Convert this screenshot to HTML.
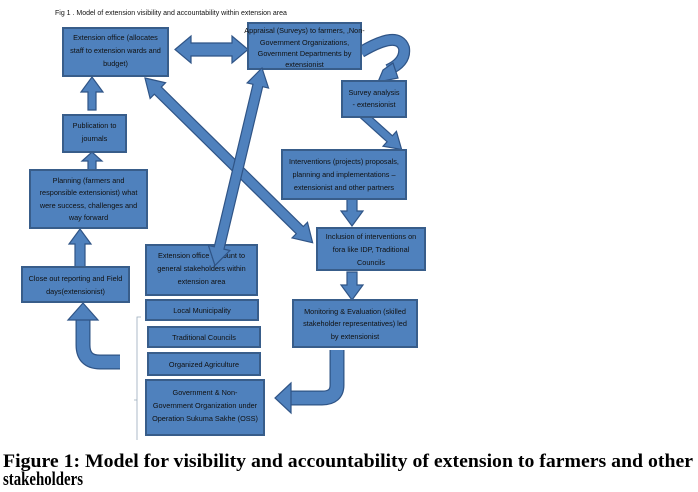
<!DOCTYPE html>
<html><head><meta charset="utf-8"><style>
html,body{margin:0;padding:0;background:#fff;width:698px;height:492px;overflow:hidden}
svg{display:block}
.b{fill:#4f81bd;stroke:#385d8a;stroke-width:2}
.a{fill:#4f81bd;stroke:#2f5486;stroke-width:1.2}
text.t{font-family:"Liberation Sans",sans-serif;font-size:7.3px;fill:#111;text-anchor:middle}
</style></head><body>
<svg width="698" height="492" viewBox="0 0 698 492" xmlns="http://www.w3.org/2000/svg">
<text x="55" y="15" font-family="Liberation Sans, sans-serif" font-size="7px" fill="#111">Fig 1 . Model of extension visibility and accountability within extension area</text>

<!-- horizontal double -->
<polygon class="a" points="175,49.5 191,36 191,43 232,43 232,36 248,49.5 232,63 232,56 191,56 191,63"/>

<!-- up arrows -->
<polygon class="a" points="88,110 88,92 81,92 92,77 103,92 96,92 96,110"/>
<polygon class="a" points="88,170 88,161 82,161 92,152 102,161 96,161 96,170"/>
<polygon class="a" points="75,267 75,244 69,244 80,229 91,244 85,244 85,267"/>
<!-- down arrows -->
<polygon class="a" points="347,199 357,199 357,211 363,211 352,226 341,211 347,211"/>
<polygon class="a" points="347,272 357,272 357,285 363,285 352,300 341,285 347,285"/>
<!-- survey -> interventions -->
<g transform="translate(360,112) rotate(42)">
<polygon class="a" points="0,-4 40,-4 40,-10 56,0 40,10 40,4 0,4"/></g>

<!-- curved arrows -->
<path d="M361,52 Q398,30 404,48 Q406,62 388,70" fill="none" stroke="#2f5486" stroke-width="12"/>
<path d="M361,52 Q398,30 404,48 Q406,62 388,70" fill="none" stroke="#4f81bd" stroke-width="9.5"/>
<polygon class="a" points="393,63 398,78 378,82 383,70"/>

<path d="M337,350 L337,385 Q337,398 322,398 L290,398" fill="none" stroke="#2f5486" stroke-width="15"/>
<path d="M337,350 L337,385 Q337,398 322,398 L290,398" fill="none" stroke="#4f81bd" stroke-width="12.5"/>
<polygon class="a" points="291,383 275,398 291,413"/>

<path d="M120,362 L100,362 Q83,362 83,345 L83,319" fill="none" stroke="#2f5486" stroke-width="15"/>
<path d="M120,362 L100,362 Q83,362 83,345 L83,319" fill="none" stroke="#4f81bd" stroke-width="12.5"/>
<polygon class="a" points="68,320 83,303 98,320"/>

<!-- bracket -->
<path d="M141,317 L137,317 L137,440 M137,400 L134,400" fill="none" stroke="#9ab" stroke-width="0.8"/>

<!-- boxes -->
<rect class="b" x="63" y="28" width="105" height="48"/>
<text class="t" x="115.5" y="40">Extension office (allocates</text>
<text class="t" x="115.5" y="53">staff to extension wards and</text>
<text class="t" x="115.5" y="66">budget)</text>

<rect class="b" x="248" y="23" width="113" height="46"/>
<text class="t" x="304.5" y="33" font-size="6.3">Appraisal (Surveys) to farmers, ,Non-</text>
<text class="t" x="304.5" y="45" font-size="6.3">Government Organizations,</text>
<text class="t" x="304.5" y="56" font-size="6.3">Government Departments by</text>
<text class="t" x="304.5" y="67" font-size="6.3">extensionist</text>

<rect class="b" x="342" y="81" width="64" height="36"/>
<text class="t" x="374" y="95">Survey analysis</text>
<text class="t" x="374" y="107">- extensionist</text>

<rect class="b" x="63" y="115" width="63" height="37"/>
<text class="t" x="94.5" y="128">Publication to</text>
<text class="t" x="94.5" y="141">journals</text>

<rect class="b" x="282" y="150" width="124" height="49"/>
<text class="t" x="344" y="164">Interventions (projects) proposals,</text>
<text class="t" x="344" y="177">planning and implementations –</text>
<text class="t" x="344" y="190">extensionist and other partners</text>

<rect class="b" x="30" y="170" width="117" height="58"/>
<text class="t" x="88.5" y="183">Planning (farmers and</text>
<text class="t" x="88.5" y="195">responsible extensionist) what</text>
<text class="t" x="88.5" y="208">were success, challenges and</text>
<text class="t" x="88.5" y="220">way forward</text>

<rect class="b" x="317" y="228" width="108" height="42"/>
<text class="t" x="371" y="239">Inclusion of interventions on</text>
<text class="t" x="371" y="252">fora like IDP, Traditional</text>
<text class="t" x="371" y="265">Councils</text>

<rect class="b" x="146" y="245" width="111" height="50"/>
<text class="t" x="201.5" y="258">Extension office account to</text>
<text class="t" x="201.5" y="271">general stakeholders within</text>
<text class="t" x="201.5" y="284">extension area</text>

<rect class="b" x="22" y="267" width="107" height="35"/>
<text class="t" x="75.5" y="281">Close out reporting and Field</text>
<text class="t" x="75.5" y="294">days(extensionist)</text>

<rect class="b" x="146" y="300" width="112" height="20"/>
<text class="t" x="202" y="313">Local Municipality</text>

<rect class="b" x="293" y="300" width="124" height="47"/>
<text class="t" x="355" y="314">Monitoring &amp; Evaluation (skilled</text>
<text class="t" x="355" y="326">stakeholder representatives) led</text>
<text class="t" x="355" y="339">by extensionist</text>

<rect class="b" x="148" y="327" width="112" height="20"/>
<text class="t" x="204" y="340">Traditional Councils</text>

<rect class="b" x="148" y="353" width="112" height="22"/>
<text class="t" x="204" y="367">Organized Agriculture</text>

<rect class="b" x="146" y="380" width="118" height="55"/>
<text class="t" x="205" y="395">Government &amp; Non-</text>
<text class="t" x="205" y="408">Government Organization under</text>
<text class="t" x="205" y="421">Operation Sukuma Sakhe (OSS)</text>

<!-- diagonal double arrows (on top of boxes) -->
<g transform="translate(145,78) rotate(44.5)">
<polygon class="a" points="0,0 18,-11 18,-5 217,-5 217,-11 235,0 217,11 217,5 18,5 18,11"/></g>
<g transform="translate(262,68) rotate(103.4)">
<polygon class="a" points="0,0 18,-11 18,-5 185,-5 185,-11 203,0 185,11 185,5 18,5 18,11"/></g>

<!-- caption -->
<text x="3" y="467" font-family="Liberation Serif, serif" font-weight="bold" font-size="19px" fill="#000" textLength="690" lengthAdjust="spacingAndGlyphs">Figure 1: Model for visibility and accountability of extension to farmers and other</text>
<text x="3" y="485" font-family="Liberation Serif, serif" font-weight="bold" font-size="19px" fill="#000" textLength="80" lengthAdjust="spacingAndGlyphs">stakeholders</text>
</svg>
</body></html>
